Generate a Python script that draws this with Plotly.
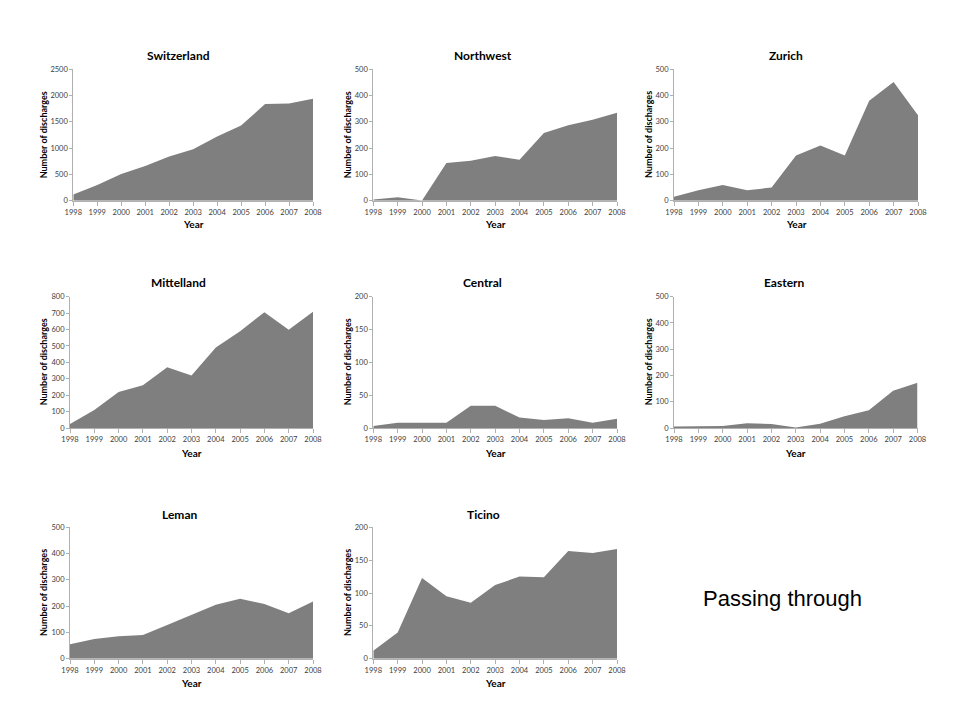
import plotly.graph_objects as go

years = [1998, 1999, 2000, 2001, 2002, 2003, 2004, 2005, 2006, 2007, 2008]

switzerland = [120, 300, 510, 660, 840, 980, 1220, 1430, 1840, 1850, 1940]
northwest = [5, 13, 1, 143, 152, 170, 156, 258, 287, 308, 335]
zurich = [15, 40, 60, 40, 50, 172, 210, 172, 380, 452, 325]
mittelland = [25, 110, 220, 260, 370, 320, 490, 590, 705, 598, 708]
central = [3, 8, 8, 8, 34, 34, 16, 12, 15, 8, 14]
eastern = [6, 8, 8, 18, 15, 2, 16, 45, 68, 142, 172]
leman = [55, 75, 85, 90, 128, 165, 205, 228, 208, 173, 218]
ticino = [12, 40, 123, 95, 85, 112, 125, 124, 164, 161, 167]

regions = ["Switzerland", "Northwest", "Zurich", "Mittelland", "Central",
           "Eastern", "Leman", "Ticino"]
series = [switzerland, northwest, zurich, mittelland, central, eastern, leman, ticino]
y_max = [2500, 500, 500, 800, 200, 500, 500, 200]
y_step = [500, 100, 100, 100, 50, 100, 100, 50]

# page has an 8px body margin; figure occupies the rest of the window
OFF = 8
W, H = 960 - 2 * OFF, 720 - 2 * OFF


def fx(px):
    return (px - OFF) / W


def fy(py):
    return 1 - (py - OFF) / H


# plot-area pixel boxes in window coordinates: (x0, x1, ytop, ybottom)
boxes = [
    (73.3, 313, 69.3, 200.7), (373.3, 617, 69.3, 200.7), (674, 918, 69.3, 200.7),
    (70, 313, 296.7, 428), (373.3, 617, 296.7, 428), (674, 917.5, 296.7, 428),
    (70, 313, 527.3, 658.7), (373.3, 617, 527.3, 658.7),
]
title_pos = [(178, 55), (482.7, 55), (785.7, 55),
             (178, 282.3), (482.7, 282.3), (784, 282.3),
             (179, 514), (483, 514)]
ylab_x = [43.3, 347.3, 648, 43, 347, 648, 43, 347]
year_y = [224, 224, 224, 452.7, 452.7, 452.7, 682.7, 682.7]

FONT = "Lato, Carlito, Calibri, sans-serif"
fig = go.Figure()
annotations = []
for i, (name, vals) in enumerate(zip(regions, series)):
    k = "" if i == 0 else str(i + 1)
    x0, x1, yt, yb = boxes[i]
    fig.add_trace(go.Scatter(
        x=years, y=vals, mode="lines", fill="tozeroy",
        fillcolor="#7f7f7f", line=dict(width=0, color="#7f7f7f"),
        xaxis="x" + k, yaxis="y" + k, showlegend=False, hoverinfo="x+y"))
    fig.layout["xaxis" + k] = dict(
        domain=[fx(x0), fx(x1)], anchor="y" + k, range=[1998, 2008],
        tickmode="array", tickvals=years, ticktext=[str(y) for y in years],
        showgrid=False, zeroline=False, showline=True, linecolor="#b0b0b0",
        linewidth=1, ticks="outside", ticklen=4, tickcolor="#b0b0b0",
        automargin=False,
        tickfont=dict(family=FONT, size=7.5, color="#404040"), fixedrange=True)
    fig.layout["yaxis" + k] = dict(
        domain=[fy(yb), fy(yt)], anchor="x" + k, range=[0, y_max[i]],
        dtick=y_step[i], tick0=0, showgrid=False, zeroline=False, showline=True,
        linecolor="#b0b0b0", linewidth=1, ticks="outside", ticklen=3,
        automargin=False,
        tickcolor="#b0b0b0", tickfont=dict(family=FONT, size=7.5, color="#404040"),
        fixedrange=True)
    tx, ty = title_pos[i]
    annotations.append(dict(
        text="<b>%s</b>" % name, x=fx(tx), y=fy(ty), xref="paper", yref="paper",
        xanchor="center", yanchor="middle", showarrow=False,
        font=dict(family=FONT, size=12, color="#000000")))
    annotations.append(dict(
        text="<b>Year</b>", x=fx((x0 + x1) / 2), y=fy(year_y[i]),
        xref="paper", yref="paper", xanchor="center", yanchor="middle",
        showarrow=False, font=dict(family=FONT, size=10, color="#000000")))
    annotations.append(dict(
        text="<b>Number of discharges</b>", x=fx(ylab_x[i]),
        y=fy((yt + yb) / 2), xref="paper", yref="paper",
        xanchor="center", yanchor="middle", textangle=-90, showarrow=False,
        font=dict(family=FONT, size=9, color="#000000")))

annotations.append(dict(
    text="Passing through", x=fx(782), y=fy(598), xref="paper", yref="paper",
    xanchor="center", yanchor="middle", showarrow=False,
    font=dict(family="Liberation Sans, Arial, sans-serif", size=22, color="#000000")))

fig.update_layout(
    template="none",
    width=W, height=H, margin=dict(l=0, r=0, t=0, b=0, autoexpand=False),
    paper_bgcolor="white", plot_bgcolor="white",
    annotations=annotations, showlegend=False)

fig.write_html("out.html")
